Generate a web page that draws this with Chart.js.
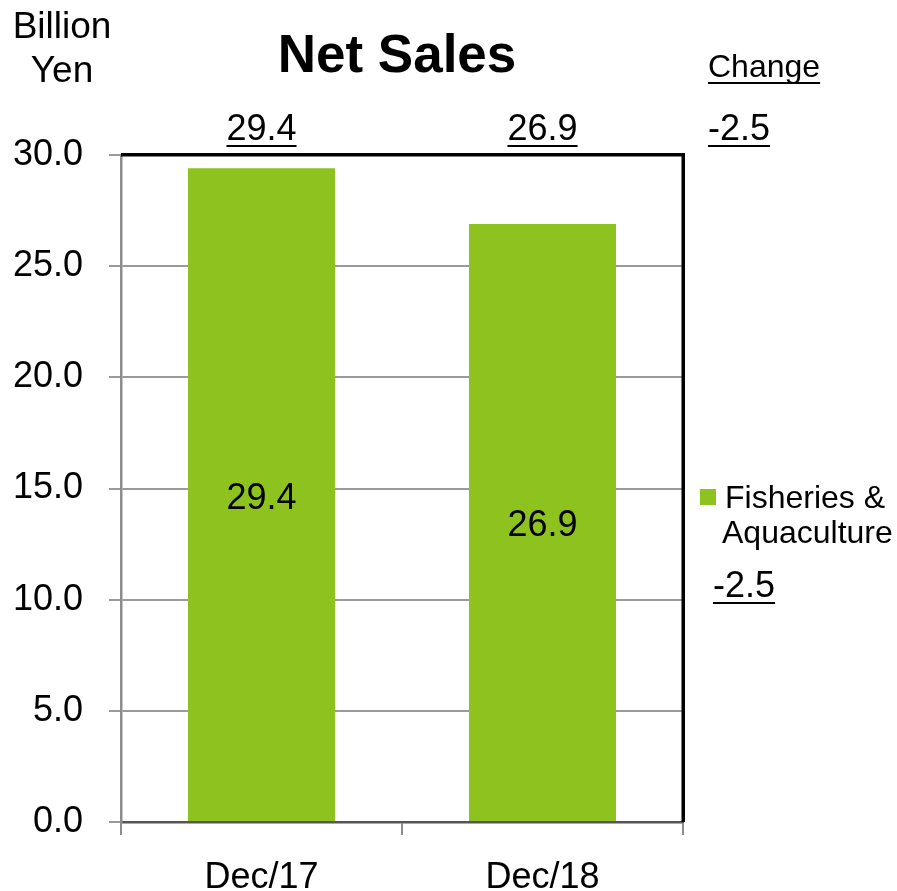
<!DOCTYPE html>
<html>
<head>
<meta charset="utf-8">
<script src="https://cdn.jsdelivr.net/npm/chart.js@4/dist/chart.umd.min.js"></script>
<style>
  html, body { margin: 0; padding: 0; background: #fff; }
  canvas { display: block; }
</style>
</head>
<body>
<canvas id="salesChart" width="897" height="891"></canvas>
<script>
const categories = ['Dec/17', 'Dec/18'];
const netSales = [29.4, 26.9];
const seriesName = ['Fisheries &', 'Aquaculture'];
const yMin = 0;
const yMax = 30;
const yStep = 5;

const FONT = '"Liberation Sans", Arial, sans-serif';
const BAR_GREEN = '#8DC21F';
const fmt = v => v.toFixed(1);

// writes text and puts a line under it
function underlined(ctx, text, x, y, align) {
    ctx.textAlign = align;
    ctx.fillText(text, x, y);
    const w = ctx.measureText(text).width;
    const x0 = align === 'center' ? x - w / 2 : x;
    ctx.fillRect(x0, y + 5, w, 2);
}

const annotations = {
    id: 'annotations',
    afterDatasetsDraw(chart) {
        const ctx = chart.ctx;
        const area = chart.chartArea;
        const meta = chart.getDatasetMeta(0);
        const change = netSales[netSales.length - 1] - netSales[0];

        ctx.save();
        // frame: black top and right edges
        ctx.fillStyle = '#000';
        ctx.fillRect(area.left, area.top - 2, area.right - area.left + 2, 3.5);
        ctx.fillRect(area.right - 1.5, area.top - 2, 3.5, area.bottom - area.top + 2);

        ctx.textBaseline = 'alphabetic';

        // unit label
        ctx.font = '37px ' + FONT;
        ctx.textAlign = 'center';
        ctx.fillText('Billion', 62, 38);
        ctx.fillText('Yen', 62, 82);

        // title
        ctx.font = 'bold 53px ' + FONT;
        ctx.fillText('Net Sales', 397, 72);

        // change column
        ctx.font = '32px ' + FONT;
        underlined(ctx, 'Change', 708, 77, 'left');
        ctx.font = '36px ' + FONT;
        underlined(ctx, fmt(change), 708, 140, 'left');

        // totals above bars and values inside bars
        ctx.font = '36px ' + FONT;
        meta.data.forEach((bar, i) => {
            underlined(ctx, fmt(netSales[i]), bar.x, 140, 'center');
            ctx.textAlign = 'center';
            ctx.fillText(fmt(netSales[i]), bar.x, (bar.y + bar.base) / 2 + 14);
        });

        // legend
        ctx.fillStyle = BAR_GREEN;
        ctx.fillRect(700, 489, 16, 16);
        ctx.fillStyle = '#000';
        ctx.font = '32px ' + FONT;
        ctx.textAlign = 'left';
        ctx.fillText(seriesName[0], 725, 508);
        ctx.fillText(seriesName[1], 722, 543);
        ctx.font = '36px ' + FONT;
        underlined(ctx, fmt(change), 713, 597, 'left');
        ctx.restore();
    }
};

new Chart(document.getElementById('salesChart'), {
    type: 'bar',
    data: {
        labels: categories,
        datasets: [{
            label: seriesName.join(' '),
            data: netSales,
            backgroundColor: BAR_GREEN,
            borderWidth: 0,
            barPercentage: 0.523,
            categoryPercentage: 1.0
        }]
    },
    options: {
        responsive: false,
        devicePixelRatio: 1,
        animation: false,
        layout: {
            padding: {top: 155, right: 214, left: 0, bottom: 0}
        },
        plugins: {
            legend: {display: false},
            title: {display: false},
            tooltip: {enabled: false}
        },
        scales: {
            x: {
                afterFit: scale => { scale.height = 69; },
                grid: {
                    drawOnChartArea: false,
                    offset: true,
                    tickLength: 13,
                    color: '#8c8c8c',
                    lineWidth: 2
                },
                border: {color: '#555', width: 2.5},
                ticks: {
                    color: '#000',
                    font: {family: FONT, size: 36},
                    padding: 21
                }
            },
            y: {
                min: yMin,
                max: yMax,
                afterFit: scale => { scale.width = 121; },
                grid: {
                    color: '#9a9a9a',
                    lineWidth: 2,
                    tickLength: 12
                },
                border: {color: '#8c8c8c', width: 2.5},
                ticks: {
                    stepSize: yStep,
                    color: '#000',
                    font: {family: FONT, size: 36},
                    padding: 26,
                    callback: v => fmt(v)
                }
            }
        }
    },
    plugins: [annotations]
});
</script>
</body>
</html>
